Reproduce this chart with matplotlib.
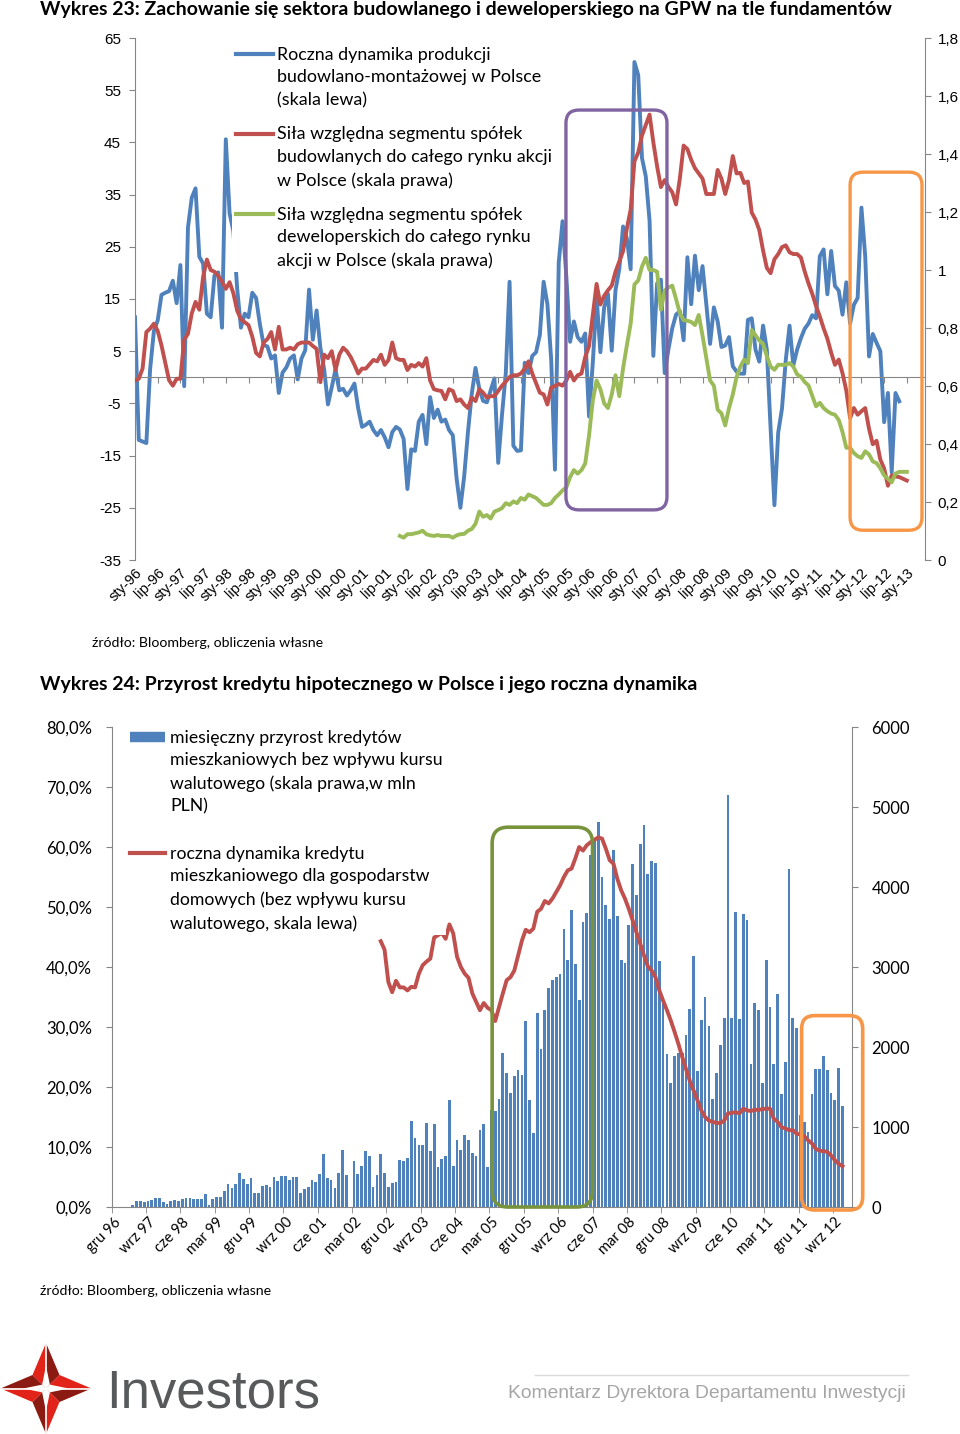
import numpy as np
import matplotlib
matplotlib.use("Agg")
import matplotlib.pyplot as plt
from matplotlib.lines import Line2D
from matplotlib.patches import FancyBboxPatch, Polygon

# ---------------- Wykres 23 (monthly, index 0 = sty-96) ----------------
prod_dyn = [
    11.5, -12, -12.3, -12.6, 1.6, 8.9, 10.9, 15.8, 16.2, 16.5,
    18.5, 14.2, 21.5, -1.7, 28.7, 34.4, 36.2, 23.1, 21.8, 12.2,
    11.5, 19.5, 20.1, 9.5, 45.6, 31.4, 28, 17, 9.5, 12.2,
    11.5, 16.2, 15.2, 10.2, 6.2, 5.9, 3.6, 4.2, -3, 0.9,
    1.9, 3.6, 4.2, -0.4, 3.6, 5.2, 16.8, 7.2, 12.8, 5.6,
    1.5, -5.2, -1.9, 1.5, -2.5, -2.2, -3.5, -2.5, -1.2, -6,
    -9.5, -9.1, -8.5, -10.1, -11.1, -10.1, -11.5, -13.4, -10.5, -9.5,
    -10, -11.8, -21.4, -13.8, -14.1, -8.5, -7.2, -12.8, -3.8, -7.8,
    -6.2, -8.5, -8.1, -10.1, -11.1, -19.4, -25, -19, -10.5, -3.2,
    1.8, -2.2, -4.5, -4.8, -2.5, -0.2, -16.4, -7.2, 0.8, 18.3,
    -13.1, -14.1, -14, 2.8, 0.8, 4.1, 4.8, 8.1, 18.3, 14,
    3.4, -17.7, 22, 29.9, 19.3, 6.8, 10.7, 7.7, 6.8, 8.4,
    -7.5, 2.8, 15.4, 4.8, 13.4, 16, 5.1, 16.7, 20.7, 28.9,
    26.6, 20.7, 60.4, 57.9, 42, 38.5, 30, 4.1, 18, 18.7,
    0.8, 5.4, 9.4, 12, 12.7, 7.1, 23, 14, 23.3, 16.7,
    21.3, 14, 6.4, 13.4, 10.7, 5.8, 6.1, 7.7, 2.1, 1.1,
    0.7, 0.7, 11, 11.3, 5.3, 3, 9.9, 5.3, -9.9, -24.5,
    -10.6, -6, 3.3, 9.9, 2.3, 5.3, 7.5, 9.3, 10.3, 11.9,
    11.3, 23.2, 24.5, 15.9, 24.2, 17.5, 16.6, 12, 18.2, 10.3,
    13.9, 15.2, 32.5, 23.2, 4, 8.3, 6.6, 5, -8.6, -3,
    -18.2, -3, -4.6,
]
bud_rel = [
    0.619, 0.625, 0.66, 0.786, 0.798, 0.815, 0.79, 0.74, 0.68, 0.62,
    0.601, 0.625, 0.625, 0.76, 0.78, 0.85, 0.89, 0.863, 0.976, 1.036,
    1.0, 0.994, 0.98, 0.96, 0.935, 0.958, 0.92, 0.86, 0.83, 0.82,
    0.81, 0.77, 0.714, 0.702, 0.75, 0.762, 0.786, 0.726, 0.804, 0.726,
    0.726, 0.732, 0.726, 0.744, 0.75, 0.75, 0.75, 0.738, 0.728, 0.613,
    0.708, 0.696, 0.72, 0.655, 0.708, 0.732, 0.72, 0.70, 0.673, 0.643,
    0.66, 0.66, 0.675, 0.69, 0.685, 0.708, 0.673, 0.69, 0.75, 0.696,
    0.69, 0.69, 0.655, 0.673, 0.667, 0.679, 0.667, 0.696, 0.619, 0.589,
    0.585, 0.583, 0.554, 0.589, 0.583, 0.548, 0.554, 0.536, 0.524, 0.56,
    0.548, 0.589, 0.577, 0.56, 0.565, 0.565, 0.583, 0.601, 0.615, 0.631,
    0.637, 0.637, 0.643, 0.66, 0.685, 0.643, 0.61, 0.577, 0.571, 0.536,
    0.595, 0.6, 0.607, 0.601, 0.619, 0.649, 0.619, 0.637, 0.643, 0.7,
    0.738, 0.845, 0.952, 0.881, 0.911, 0.93, 0.946, 0.994, 1.03, 1.065,
    1.143, 1.208, 1.375, 1.405, 1.464, 1.5, 1.536, 1.44, 1.357, 1.286,
    1.31, 1.286, 1.268, 1.226, 1.315, 1.429, 1.417, 1.38, 1.351, 1.333,
    1.315, 1.262, 1.262, 1.262, 1.345, 1.315, 1.262, 1.31, 1.393, 1.333,
    1.335, 1.3, 1.305, 1.198, 1.174, 1.138, 1.067, 1.007, 0.989, 1.037,
    1.055, 1.079, 1.085, 1.061, 1.055, 1.055, 1.043, 0.995, 0.954, 0.918,
    0.876, 0.84, 0.799, 0.763, 0.715, 0.673, 0.691, 0.644, 0.584, 0.489,
    0.524, 0.501, 0.513, 0.524, 0.453, 0.399, 0.411, 0.346, 0.316, 0.256,
    0.292, 0.288, 0.286, 0.28, 0.274,
]
dev_start = 70  # first month of the developer series
dev_rel = [
    0.083, 0.077, 0.089, 0.089, 0.092, 0.095, 0.101, 0.089, 0.085, 0.083,
    0.086, 0.083, 0.083, 0.083, 0.077, 0.085, 0.089, 0.09, 0.101, 0.107,
    0.125, 0.167, 0.149, 0.155, 0.143, 0.167, 0.172, 0.179, 0.196, 0.19,
    0.202, 0.196, 0.214, 0.208, 0.226, 0.22, 0.214, 0.202, 0.19, 0.19,
    0.196, 0.214, 0.226, 0.24, 0.25, 0.286, 0.31, 0.298, 0.31, 0.333,
    0.429, 0.55, 0.619, 0.589, 0.54, 0.524, 0.571, 0.637, 0.565, 0.661,
    0.74, 0.815, 0.95, 0.964, 1.012, 1.042, 1.0, 1.0, 0.994, 0.863,
    0.929, 0.94, 0.946, 0.9, 0.851, 0.827, 0.825, 0.821, 0.81, 0.845,
    0.774, 0.696, 0.619, 0.601, 0.518, 0.506, 0.464, 0.524, 0.571, 0.631,
    0.667, 0.691, 0.679, 0.793, 0.775, 0.757, 0.745, 0.703, 0.667, 0.656,
    0.673, 0.673, 0.673, 0.679, 0.667, 0.64, 0.632, 0.614, 0.602, 0.566,
    0.53, 0.542, 0.524, 0.513, 0.505, 0.501, 0.483, 0.441, 0.387, 0.387,
    0.369, 0.358, 0.352, 0.375, 0.364, 0.34, 0.334, 0.316, 0.292, 0.28,
    0.268, 0.298, 0.304, 0.304, 0.304,
]
x23_labels = ["sty-96", "lip-96", "sty-97", "lip-97", "sty-98", "lip-98",
              "sty-99", "lip-99", "sty-00", "lip-00", "sty-01", "lip-01",
              "sty-02", "lip-02", "sty-03", "lip-03", "sty-04", "lip-04",
              "sty-05", "lip-05", "sty-06", "lip-06", "sty-07", "lip-07",
              "sty-08", "lip-08", "sty-09", "lip-09", "sty-10", "lip-10",
              "sty-11", "lip-11", "sty-12", "lip-12", "sty-13"]
left23 = list(range(-35, 66, 10))
right23 = [0, 0.2, 0.4, 0.6, 0.8, 1.0, 1.2, 1.4, 1.6, 1.8]
labels23 = ["Roczna dynamika produkcji\nbudowlano-montażowej w Polsce\n(skala lewa)",
            "Siła względna segmentu spółek\nbudowlanych do całego rynku akcji\nw Polsce (skala prawa)",
            "Siła względna segmentu spółek\ndeweloperskich do całego rynku\nakcji w Polsce (skala prawa)"]

# ---------------- Wykres 24 (monthly, index 0 = gru 96) ----------------
bars_start = 5
kred_mies = [
    29, 71, 75, 63, 71, 83, 117, 113, 63, 42,
    75, 83, 71, 96, 113, 117, 96, 104, 104, 158,
    21, 96, 129, 121, 200, 292, 238, 292, 429, 346,
    292, 363, 179, 179, 258, 275, 254, 371, 329, 388,
    388, 333, 371, 379, 181, 229, 256, 342, 313, 417,
    667, 367, 333, 242, 425, 717, 396, 0, 571, 417,
    513, 700, 642, 250, 396, 658, 429, 250, 300, 308,
    592, 575, 613, 1071, 867, 779, 771, 1050, 704, 1038,
    496, 596, 638, 1333, 513, 842, 708, 904, 842, 679,
    642, 958, 1038, 500, 1208, 1196, 1350, 1925, 1679, 1429,
    1638, 1708, 1654, 2325, 1333, 925, 2425, 1975, 2467, 2742,
    2833, 2871, 2913, 3479, 3083, 3708, 3033, 2583, 3563, 3679,
    4400, 4583, 4813, 4125, 3779, 3604, 4458, 3633, 3083, 3050,
    3529, 4283, 3904, 4542, 4771, 4158, 4321, 4304, 3071, 2600,
    1908, 1550, 1892, 1929, 1920, 2144, 2477, 3138, 1700, 2342,
    2625, 2263, 1346, 1679, 2029, 2367, 5146, 2367, 3688, 2346,
    3658, 3592, 1783, 2550, 2467, 1550, 3083, 2500, 1783, 2667,
    1417, 1813, 4221, 2367, 2242, 1150, 1063, 940, 1417, 1729,
    1721, 1883, 1708, 1429, 1342, 1742, 1258,
]
dyn_start = 70
kred_dyn = [
    44.3, 42.9, 37.5, 35.8, 37.7, 36.6, 36.6, 36.1, 36.7, 36.6,
    38.9, 40.3, 40.9, 41.4, 44.9, 45.3, 45.7, 44.7, 47.1, 45.6,
    41.7, 40, 38.9, 38.2, 35.6, 34.2, 32.8, 34, 33.2, 32.8,
    31, 33.3, 35.6, 37.8, 38.3, 39.4, 41.9, 44.4, 46.2, 45.8,
    46.4, 49.2, 49.7, 51, 50.6, 51.4, 52.5, 53.6, 55, 56.1,
    56.4, 58.1, 60, 59.4, 60.3, 60.8, 61.2, 61.6, 61.4, 59.7,
    57.8, 57.2, 54.7, 52.8, 51.4, 49.7, 47.8, 45.8, 43.9, 41.9,
    40.1, 39.4, 38.3, 36.1, 34.4, 32.8, 31.1, 29.2, 27.2, 25,
    23, 21, 19.4, 17.8, 16.1, 15, 14.4, 14.2, 14, 14,
    14.4, 15.6, 15.7, 15.8, 15.6, 16.4, 16.1, 16, 16.2, 16.2,
    16.3, 16.4, 16.4, 14.7, 14.2, 13.3, 13.1, 12.8, 12.8, 12.2,
    12.1, 11.8, 11.1, 10.6, 9.7, 9.4, 9.3, 9.2, 8.6, 7.8,
    7.2, 6.8,
]
x24_labels = ["gru 96", "wrz 97", "cze 98", "mar 99", "gru 99", "wrz 00",
              "cze 01", "mar 02", "gru 02", "wrz 03", "cze 04", "mar 05",
              "gru 05", "wrz 06", "cze 07", "mar 08", "gru 08", "wrz 09",
              "cze 10", "mar 11", "gru 11", "wrz 12"]
left24 = list(range(0, 81, 10))
right24 = list(range(0, 6001, 1000))
labels24 = ["miesięczny przyrost kredytów\nmieszkaniowych bez wpływu kursu\nwalutowego (skala prawa,w mln\nPLN)",
            "roczna dynamika kredytu\nmieszkaniowego dla gospodarstw\ndomowych (bez wpływu kursu\nwalutowego, skala lewa)"]

BLUE, RED, GREEN = "#4F81BD", "#C0504D", "#9BBB59"
PURPLE, ORANGE, OLIVE = "#8064A2", "#F79646", "#77933C"
AXC = "#868686"
CAL = ["Lato", "DejaVu Sans"]
NARROW = ["Liberation Sans Narrow", "Liberation Sans", "DejaVu Sans"]
plt.rcParams["font.family"] = ["Liberation Sans", "DejaVu Sans"]
plt.rcParams["axes.unicode_minus"] = False

W, H = 960, 1434
fig = plt.figure(figsize=(W / 100, H / 100), dpi=100)


def rect(x0, y0, x1, y1):
    return [x0 / W, 1 - y1 / H, (x1 - x0) / W, (y1 - y0) / H]


def comma(v):
    return ("%.1f" % v).rstrip("0").rstrip(".").replace(".", ",")


def top_align(leg, spacing):
    for t in leg.get_texts():
        t.set_linespacing(spacing)
    for col in leg._legend_handle_box.get_children():
        for row in col.get_children():
            row.align = "top"


def hl_box(ax, x0, x1, y0, y1, color, r=0.13, lw=2.4):
    inv = fig.dpi_scale_trans.inverted()
    (a, b), (c, d) = inv.transform(ax.transData.transform([(x0, y0), (x1, y1)]))
    fig.add_artist(FancyBboxPatch((a, b), c - a, d - b,
                                  boxstyle="round,pad=0,rounding_size=%g" % r,
                                  transform=fig.dpi_scale_trans, fill=False,
                                  ec=color, lw=lw, zorder=5, clip_on=False))


# ================= Wykres 23 =================
fig.text(40 / W, 1 - 10 / H,
         "Wykres 23: Zachowanie się sektora budowlanego i deweloperskiego na GPW na tle fundamentów",
         family=CAL, weight="bold", size=14, va="center")

ax = fig.add_axes(rect(135, 38, 925, 560))
axr = ax.twinx()
ax.plot(np.arange(len(prod_dyn)), prod_dyn, color=BLUE, lw=2.8)
axr.plot(np.arange(len(bud_rel)), bud_rel, color=RED, lw=2.8)
axr.plot(dev_start + np.arange(len(dev_rel)), dev_rel, color=GREEN, lw=2.8)

ax.set_xlim(0, 208.8)
ax.set_ylim(-35, 65)
axr.set_ylim(0, 1.8)
ax.set_yticks(left23)
axr.set_yticks(right23)
axr.set_yticklabels([comma(v) for v in right23])

for s in ("top", "right"):
    ax.spines[s].set_visible(False)
for s in ("top", "bottom", "left"):
    axr.spines[s].set_visible(False)
ax.spines["left"].set_color(AXC)
axr.spines["right"].set_color(AXC)
ax.spines["bottom"].set_color(AXC)
ax.spines["bottom"].set_position(("data", 0))

ax.set_xticks(np.arange(0, 205, 6))
ax.tick_params(axis="x", direction="out", length=4, color=AXC, labelbottom=False)
ax.tick_params(axis="y", direction="out", length=4, color=AXC, labelsize=11, pad=6)
axr.tick_params(axis="y", direction="out", length=4, color=AXC, labelsize=11, pad=5)

sec = ax.secondary_xaxis("bottom")
sec.set_xticks(np.arange(0, 205, 6), labels=x23_labels)
sec.tick_params(length=0, pad=4, labelsize=10.5)
sec.spines["bottom"].set_visible(False)
for t in sec.get_xticklabels():
    t.set_rotation(45)
    t.set_ha("right")
    t.set_rotation_mode("anchor")

h23 = [Line2D([], [], color=c, lw=3) for c in (BLUE, RED, GREEN)]
leg = axr.legend(h23, labels23, loc="upper left", bbox_to_anchor=rect(232, 43, 232, 43)[:2],
                 bbox_transform=fig.transFigure, prop={"family": CAL, "size": 12.9},
                 handlelength=2.1, handleheight=1.2, handletextpad=0.2, labelspacing=1.0,
                 borderpad=0.2, borderaxespad=0, fancybox=False, framealpha=1)
leg.get_frame().set_edgecolor("none")
top_align(leg, 1.52)

hl_box(ax, 113.9, 140.6, -25.4, 51.2, PURPLE)
hl_box(ax, 189, 208, -29.3, 39.3, ORANGE)

fig.text(92 / W, 1 - 643 / H, "źródło: Bloomberg, obliczenia własne",
         family=CAL, size=10.2, va="center")

# ================= Wykres 24 =================
fig.text(40 / W, 1 - 685 / H,
         "Wykres 24: Przyrost kredytu hipotecznego w Polsce i jego roczna dynamika",
         family=CAL, weight="bold", size=14, va="center")

bx = fig.add_axes(rect(111.7, 727, 852, 1207))
bxr = bx.twinx()
bx.set_zorder(bxr.get_zorder() + 1)
bx.patch.set_visible(False)

bxr.bar(bars_start + np.arange(len(kred_mies)), kred_mies, width=0.72, color=BLUE, lw=0)
bx.plot(dyn_start + np.arange(len(kred_dyn)), kred_dyn, color=RED, lw=2.8)

bx.set_xlim(-0.5, 193.5)
bx.set_ylim(0, 80)
bxr.set_ylim(0, 6000)
bx.set_yticks(left24)
bx.set_yticklabels([("%.1f%%" % v).replace(".", ",") for v in left24])
bxr.set_yticks(right24)
bxr.set_yticklabels([str(v) for v in right24])
bx.set_xticks(np.arange(0, 190, 9), labels=x24_labels)
bx.set_xticks(np.arange(-0.5, 194, 9), minor=True)

for s in ("top", "right"):
    bx.spines[s].set_visible(False)
for s in ("top", "bottom", "left"):
    bxr.spines[s].set_visible(False)
bx.spines["left"].set_color(AXC)
bx.spines["bottom"].set_color(AXC)
bxr.spines["right"].set_color(AXC)

bx.tick_params(axis="x", which="major", length=0, pad=6, labelsize=10.5)
bx.tick_params(axis="x", which="minor", length=4, direction="out", color=AXC)
bx.tick_params(axis="y", length=4, direction="out", color=AXC, labelsize=12, pad=10)
bxr.tick_params(axis="y", length=4, direction="out", color=AXC, labelsize=12, pad=10)
for t in bx.get_xticklabels():
    t.set_rotation(45)
    t.set_ha("right")
    t.set_rotation_mode("anchor")
for t in bx.get_xticklabels() + bx.get_yticklabels() + bxr.get_yticklabels():
    t.set_family(CAL)

h24 = [Line2D([], [], color=BLUE, lw=7.5, solid_capstyle="butt"),
       Line2D([], [], color=RED, lw=3)]
leg2 = bx.legend(h24, labels24, loc="upper left", bbox_to_anchor=rect(126, 726, 126, 726)[:2],
                 bbox_transform=fig.transFigure, prop={"family": CAL, "size": 12.7},
                 handlelength=2.0, handleheight=1.2, handletextpad=0.3, labelspacing=1.75,
                 borderpad=0.2, borderaxespad=0, fancybox=False, framealpha=1)
leg2.get_frame().set_edgecolor("none")
top_align(leg2, 1.52)

hl_box(bx, 99.2, 125.5, 0, 63.3, OLIVE, r=0.16, lw=2.6)
hl_box(bx, 180.3, 196.3, -0.5, 31.9, ORANGE, r=0.13, lw=2.6)

fig.text(40 / W, 1 - 1291 / H, "źródło: Bloomberg, obliczenia własne",
         family=CAL, size=10.2, va="center")

# ================= footer =================
lax = fig.add_axes(rect(0, 1343, 92, 1434))
lax.set_xlim(-1, 1)
lax.set_ylim(-1, 1)
lax.set_aspect("equal")
lax.axis("off")
for ang in (90, 0, 270, 180):
    a = np.deg2rad(ang)
    tip = (np.cos(a), np.sin(a))
    pl = (0.42 * np.cos(a + np.pi / 4), 0.42 * np.sin(a + np.pi / 4))
    pr = (0.42 * np.cos(a - np.pi / 4), 0.42 * np.sin(a - np.pi / 4))
    lax.add_patch(Polygon([tip, pl, (0, 0)], closed=True, color="#E2231A", lw=0))
    lax.add_patch(Polygon([tip, pr, (0, 0)], closed=True, color="#8B1A12", lw=0))
    lax.plot([0, tip[0]], [0, tip[1]], color="white", lw=1.2)
for ang in (90, 0, 270, 180):
    a = np.deg2rad(ang)
    tip = (0.5 * np.cos(a), 0.5 * np.sin(a))
    pl = (0.12 * np.cos(a + np.pi / 4), 0.12 * np.sin(a + np.pi / 4))
    pr = (0.12 * np.cos(a - np.pi / 4), 0.12 * np.sin(a - np.pi / 4))
    lax.add_patch(Polygon([tip, pl, (0, 0), pr], closed=True, color="white", lw=0))

fig.text(106 / W, 1 - 1408 / H, "Investors", family=NARROW, size=38,
         color="#58595B", va="baseline")
fig.add_artist(Line2D([535 / W, 908 / W], [1 - 1375 / H, 1 - 1375 / H],
                      color="#D9D9D9", lw=1))
fig.text(508 / W, 1 - 1394 / H, "Komentarz Dyrektora Departamentu Inwestycji",
         family=NARROW, size=13.85, color="#A6A6A6", va="center")

fig.savefig("out.png", dpi=100)
